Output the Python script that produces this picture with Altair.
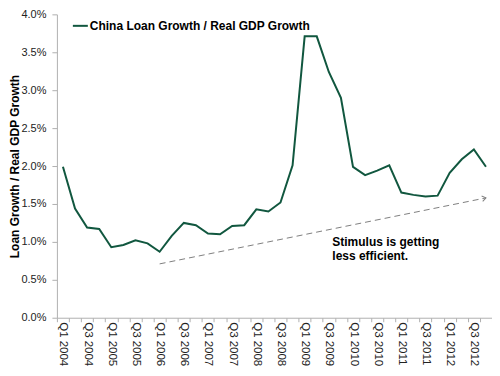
import altair as alt
import pandas as pd

quarters = [f"Q{q} {y}" for y in range(2004, 2013) for q in range(1, 5)]
ratio = [1.99, 1.44, 1.19, 1.17, 0.93, 0.96, 1.02, 0.98,
         0.87, 1.08, 1.25, 1.22, 1.11, 1.10, 1.21, 1.22,
         1.43, 1.40, 1.52, 2.01, 3.71, 3.71, 3.24, 2.90,
         1.99, 1.88, 1.94, 2.01, 1.65, 1.62, 1.60, 1.61,
         1.91, 2.09, 2.22, 1.99]
series_name = "China Loan Growth / Real GDP Growth"
trend_q = ["Q1 2006", "Q4 2012"]
trend_v = [0.71, 1.58]
note_q = ["Q3 2009"]
note_v = [1.06]
note_text = [["Stimulus is getting", "less efficient."]]
y_ticks = [0, 0.5, 1.0, 1.5, 2.0, 2.5, 3.0, 3.5, 4.0]

FONT = "Liberation Sans"
GREEN = "#11573f"
GRAY = "#808080"

df = pd.DataFrame({"q": quarters, "v": [r / 100 for r in ratio], "s": series_name})
trend = pd.DataFrame({"q": trend_q, "v": [t / 100 for t in trend_v]})
arrow = trend.iloc[[1]]
note = pd.DataFrame({"q": note_q, "v": [n / 100 for n in note_v], "t": note_text})

xscale = alt.Scale(type="band", domain=quarters, paddingInner=0, paddingOuter=0)
yscale = alt.Scale(domain=[0, 0.04], nice=False)

x_axis = alt.Axis(
    title=None, labelAngle=90, tickBand="extent", tickSize=4, labelPadding=0,
    labelExpr="(slice(datum.label,0,2)=='Q1' || slice(datum.label,0,2)=='Q3') ? datum.label : ''",
    labelFontSize=11.5, labelFont=FONT, labelColor="#222222", labelOverlap=False,
    domainColor="#b0b0b0", tickColor="#b0b0b0", grid=False,
)
y_axis = alt.Axis(
    title="Loan Growth / Real GDP Growth", format=".1%",
    values=[t / 100 for t in y_ticks], tickSize=5, labelPadding=6, labelOverlap=False,
    labelFontSize=11, labelFont=FONT, labelColor="#222222",
    titleFont=FONT, titleFontSize=12, titleFontWeight="bold", titleColor="#000000",
    titleAngle=270, titleBaseline="bottom", titleAlign="center", titleX=-35, titleY=152,
    domainColor="#b0b0b0", tickColor="#b0b0b0", grid=False,
)

X = alt.X("q:N", scale=xscale, axis=x_axis, bandPosition=0.5, sort=quarters)
Y = alt.Y("v:Q", scale=yscale, axis=y_axis)

line = alt.Chart(df).mark_line(strokeWidth=2).encode(
    x=X, y=Y,
    color=alt.Color("s:N", scale=alt.Scale(range=[GREEN]), legend=alt.Legend(
        orient="none", legendX=15, legendY=3, title=None, symbolType="stroke",
        symbolSize=225, symbolStrokeWidth=2, labelFont=FONT, labelFontSize=12,
        labelFontWeight="bold", labelColor="#000000", labelOffset=1, padding=0,
        labelLimit=400)),
)

trend_line = alt.Chart(trend).mark_line(strokeWidth=1, strokeDash=[6, 4], color=GRAY).encode(
    x=X, y=Y,
)

arrow_head = alt.Chart(arrow).mark_point(
    shape="M-1,-0.7L0,0L-1,0.7", filled=False, angle=348.6, size=60,
    color=GRAY, strokeWidth=1, opacity=1,
).encode(x=X, y=Y)

note_mark = alt.Chart(note).mark_text(
    align="left", baseline="top", dx=3.5, font=FONT, fontSize=12,
    fontWeight="bold", color="#000000", lineHeight=14,
).encode(x=X, y=Y, text="t")

chart = alt.layer(line, trend_line, arrow_head, note_mark).properties(
    width=436, height=304,
    autosize=alt.AutoSizeParams(type="none"),
    padding={"left": 49, "top": 6, "right": 0, "bottom": 50},
).configure_view(stroke=None)

chart.save("out.html", embed_options={"renderer": "svg", "actions": False})
